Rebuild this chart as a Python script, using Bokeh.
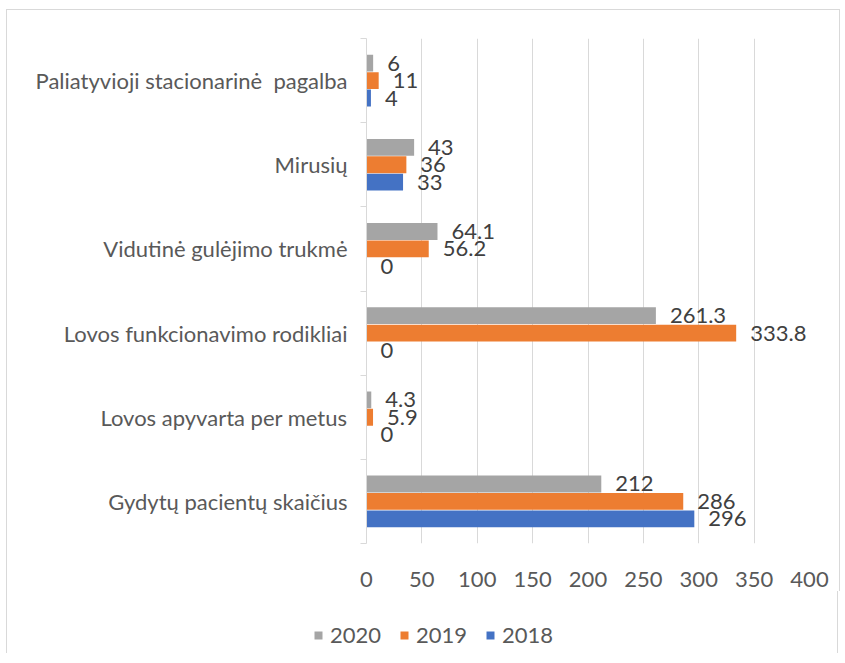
from bokeh.plotting import figure
from bokeh.models import ColumnDataSource, FixedTicker, LabelSet, Legend, LegendItem, Range1d
from bokeh.core.properties import value
from bokeh.transform import dodge
from bokeh.embed import file_html
from bokeh.resources import INLINE

categories = ["Gydytų pacientų skaičius", "Lovos apyvarta per metus", "Lovos funkcionavimo rodikliai",
              "Vidutinė gulėjimo trukmė", "Mirusių", "Paliatyvioji stacionarinė\u00a0 pagalba"]
v2018 = [296, 0, 0, 0, 33, 4]
v2019 = [286, 5.9, 333.8, 56.2, 36, 11]
v2020 = [212, 4.3, 261.3, 64.1, 43, 6]
x_ticks = [0, 50, 100, 150, 200, 250, 300, 350, 400]

FONT = "Lato"
FS = "22px"
pos = list(range(len(categories)))
src = ColumnDataSource(dict(
    y=pos, v2018=v2018, v2019=v2019, v2020=v2020,
    l2018=[f"{v:g}" for v in v2018], l2019=[f"{v:g}" for v in v2019], l2020=[f"{v:g}" for v in v2020],
))

p = figure(frame_width=443, frame_height=505, output_backend="svg", toolbar_location=None,
           x_range=Range1d(0, 400), y_range=Range1d(-0.5, len(categories) - 0.5),
           min_border_left=359, min_border_right=30, min_border_top=28, min_border_bottom=48)
p.styles = {"border-top": "1px solid #d9d9d9", "border-left": "1px solid #d9d9d9",
            "border-right": "1px solid #d9d9d9", "margin": "9px 0 0 6px"}
p.outline_line_color = None

off = 0.207
h = 0.2
series = [("2020", "v2020", "l2020", off, "#A5A5A5"),
          ("2019", "v2019", "l2019", 0.0, "#ED7D31"),
          ("2018", "v2018", "l2018", -off, "#4472C4")]
for name, col, lab, o, color in series:
    p.hbar(y=dodge("y", o), right=col, left=0, height=h, source=src, fill_color=color, line_color=None)
    p.add_layout(LabelSet(x=col, y=dodge("y", o), text=lab, source=src, x_offset=14,
                          text_baseline="middle", text_font=value(FONT), text_font_size=value(FS),
                          text_color=value("#404040")))

p.xaxis.ticker = FixedTicker(ticks=x_ticks)
p.xaxis.axis_line_color = None
p.xaxis.major_tick_line_color = None
p.xaxis.minor_tick_line_color = None
p.xaxis.major_label_standoff = 22
p.xaxis.major_label_text_font = FONT
p.xaxis.major_label_text_font_size = FS
p.xaxis.major_label_text_color = "#595959"

p.yaxis.ticker = FixedTicker(ticks=pos, minor_ticks=[i - 0.5 for i in range(len(categories) + 1)])
p.yaxis.major_label_overrides = {i: c for i, c in enumerate(categories)}
p.yaxis.major_tick_line_color = None
p.yaxis.minor_tick_in = 0
p.yaxis.minor_tick_out = 6
p.yaxis.minor_tick_line_color = "#d9d9d9"
p.yaxis.axis_line_color = "#d9d9d9"
p.yaxis.major_label_standoff = 13
p.yaxis.major_label_text_font = FONT
p.yaxis.major_label_text_font_size = FS
p.yaxis.major_label_text_color = "#595959"

p.xgrid.grid_line_color = "#d9d9d9"
p.ygrid.grid_line_color = None

# legend strip below the chart (separate root so its frame spans the full width)
p2 = figure(width=832, height=62, output_backend="svg", toolbar_location=None,
            x_axis_type=None, y_axis_type=None,
            x_range=Range1d(0, 1), y_range=Range1d(100, 101),
            min_border_left=0, min_border_right=0, min_border_top=0, min_border_bottom=0)
p2.styles = {"border-left": "1px solid #d9d9d9", "border-right": "1px solid #d9d9d9",
             "margin": "0 0 0 6px"}
p2.grid.grid_line_color = None
p2.outline_line_color = None
items = []
for name, col, lab, o, color in series:
    r = p2.hbar(y="y", right=col, left=0, height=h, source=src, fill_color=color, line_color=None)
    items.append(LegendItem(label=name, renderers=[r]))
legend = Legend(items=items, orientation="horizontal", location=(306, 5),
                label_text_font=FONT, label_text_font_size=FS, label_text_color="#595959",
                glyph_width=10, glyph_height=10, spacing=18, label_standoff=7,
                border_line_color=None, background_fill_alpha=0, padding=5, margin=0)
p2.add_layout(legend, "center")

open("out.html", "w").write(file_html([p, p2], INLINE))
